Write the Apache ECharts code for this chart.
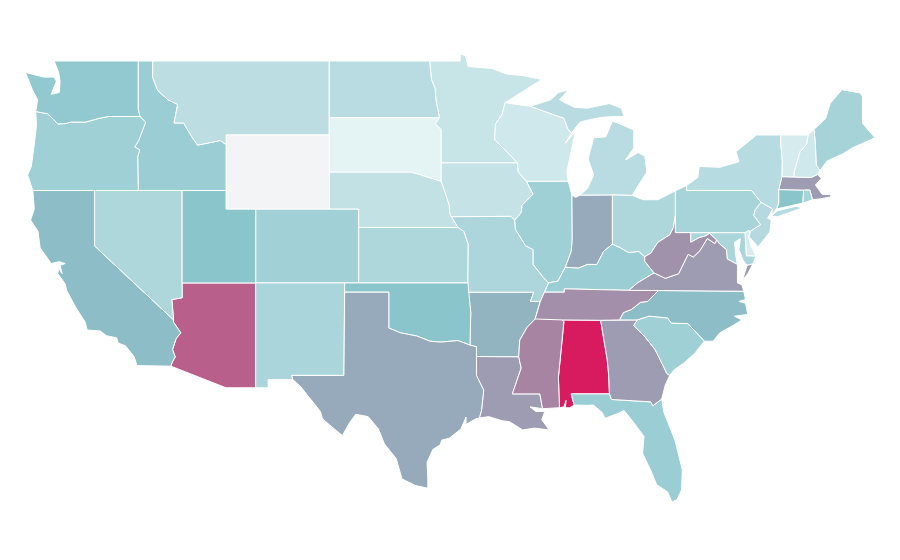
<!DOCTYPE html>
<html>
<head>
<meta charset="utf-8">
<style>html,body{margin:0;background:#fff}#map{width:900px;height:560px}</style>
<script src="https://cdn.jsdelivr.net/npm/echarts@6/dist/echarts.min.js"></script>
</head>
<body>
<div id="map"></div>
<script>
var stateNames = ['Alabama','Arizona','Arkansas','California','Colorado','Connecticut','Delaware','Florida','Georgia','Idaho','Illinois','Indiana','Iowa','Kansas','Kentucky','Louisiana','Maine','Maryland','Massachusetts','Michigan','Minnesota','Mississippi','Missouri','Montana','Nebraska','Nevada','New Hampshire','New Jersey','New Mexico','New York','North Carolina','North Dakota','Ohio','Oklahoma','Oregon','Pennsylvania','Rhode Island','South Carolina','South Dakota','Tennessee','Texas','Utah','Vermont','Virginia','Washington','West Virginia','Wisconsin','Wyoming'];
// Wyoming has no value in the picture, it takes the no-data colour
var stateValues = [100,80,55,52,39,50,13,42,62,42,40,58,22,33,42,62,37,35,62,28,21,69,34,26,24,33,17,30,35,29,52,28,33,50,40,36,36,40,7,66,58,50,14,62,46,65,17,null];
var colorStops = ['#f3fafb','#8ac5cc','#d81b5f'];
var noDataColor = '#f3f4f6';

// shared borders, lon/lat
var columbia = [[-124,46.27],[-123.2,46.15],[-122.8,45.85],[-122.5,45.6],[-121.95,45.62],[-121.6,45.7],[-120.6,45.7],[-119.7,45.9],[-119.05,46],[-116.92,46]];
var snake = [[-116.92,46],[-116.53,45.7],[-117,44.7],[-117.27,44.35],[-116.94,44.2],[-117.07,43.8],[-117.03,42]];
var bitterroot = [[-116.05,49],[-116.05,48.1],[-115.7,47.4],[-115,46.9],[-114.35,46.65],[-114.6,45.65],[-113.95,45.65],[-113.35,44.85],[-113,44.45],[-111.45,44.7],[-111.05,44.47]];
var coloradoRiver = [[-114.63,35],[-114.63,34.87],[-114.14,34.3],[-114.45,34],[-114.7,33.4],[-114.52,33],[-114.72,32.72]];
var redRiverOK = [[-100,34.56],[-99.2,34.3],[-98.1,34.13],[-97.2,33.85],[-96.5,33.8],[-95.3,33.88],[-94.48,33.64]];
var redRiverND = [[-97.23,49],[-97.1,48],[-96.85,47.5],[-96.8,46.9],[-96.56,45.94]];
var sdMn = [[-96.56,45.94],[-96.85,45.6],[-96.45,45.3],[-96.45,43.5]];
var missouriNE = [[-96.45,42.5],[-96.1,41.7],[-95.9,41.2],[-95.85,40.7],[-95.75,40.58]];
var upperMiss = [[-92.1,46.75],[-92.3,46.1],[-92.75,45.6],[-92.8,44.75],[-91.25,43.5],[-91.2,43],[-90.65,42.5]];
var iowaIL = [[-90.65,42.5],[-90.2,41.8],[-90.95,41.2],[-91,40.8],[-91.45,40.4]];
var moIL = [[-91.45,40.4],[-91.4,39.9],[-90.7,39],[-90.2,38.8],[-90.2,38],[-89.5,37.3],[-89.15,37]];
var lowerMiss = [[-89.7,36],[-90.05,35.05],[-90.6,34.6],[-91.1,33.9],[-91.17,33]];
var msLa = [[-91.17,33],[-91,32.4],[-91.6,31],[-89.73,31],[-89.55,30.2]];
var ohioKyW = [[-84.8,39.1],[-85.4,38.7],[-85.85,38],[-86.5,38],[-87.1,37.8],[-88,37.85]];
var ohioKyIL = [[-88,37.85],[-88.5,37.1],[-89.15,37]];
var ohioKyE = [[-82.6,38.42],[-83,38.7],[-83.7,38.65],[-84.25,38.9],[-84.8,39.1]];
var ohioWv = [[-80.52,40.64],[-80.65,40],[-80.9,39.6],[-81.7,39.2],[-82.2,38.6],[-82.6,38.42]];
var kyVa = [[-83.68,36.6],[-83.1,37],[-81.97,37.54]];
var kyWv = [[-81.97,37.54],[-82.6,38.17],[-82.6,38.42]];
var vaWv = [[-77.72,39.32],[-77.83,39.13],[-78.35,39.4],[-78.85,38.75],[-79.3,38.4],[-79.65,38.55],[-80.3,37.5],[-81.2,37.25],[-81.97,37.54]];
var tnNc = [[-84.32,35],[-84.05,35.4],[-83.5,35.57],[-82.9,35.95],[-82.4,36],[-81.68,36.59]];
var savannah = [[-83.1,35],[-83.35,34.7],[-82.6,34.1],[-81.9,33.4],[-81.4,32.6],[-81.1,32.1],[-80.9,32]];
var ncSc = [[-83.1,35],[-82.3,35.2],[-81.05,35.1],[-80.8,34.82],[-79.67,34.8],[-78.55,33.85]];
var alGa = [[-85.6,34.98],[-85.15,32.85],[-85.05,32],[-85,31]];
var gaFl = [[-85,31],[-84.86,30.7],[-82.2,30.57],[-82.05,30.36],[-81.45,30.72]];
var alFl = [[-85,31],[-87.6,31],[-87.4,30.4]];
var delaware = [[-74.7,41.36],[-75.1,40.95],[-75.2,40.65],[-74.73,40.15],[-75.42,39.8]];
var mdPotomac = [[-76.3,38],[-77,38.3],[-77.05,38.8],[-77.5,39.1],[-77.72,39.32]];
var lakeMI = [[-87.55,41.75],[-87.3,41.62],[-87,41.75]];
var wiUp = [[-90.4,46.55],[-89,46.15],[-88.1,45.9],[-87.85,45.35],[-87.6,45.1]];
var ctRi = [[-71.8,42.02],[-71.85,41.32]];
var nyNe = [[-73.35,45],[-73.35,44.5],[-73.25,43.6],[-73.27,42.75]];
var vtNh = [[-71.5,45],[-71.6,44.5],[-72.05,44.1],[-72.45,43],[-72.46,42.73]];

function rev(line) { return line.slice().reverse(); }

var stateShapes = {
    'Washington': [[[[-122.75,49],[-117.04,49],[-117.04,46.42]].concat(rev(columbia), [[-123.87,46.9],[-124.2,47.4],[-124.7,48.38],[-123.45,48.13],[-122.75,48.13],[-122.6,47.9],[-122.95,47.2],[-122.4,47.3],[-122.35,47.9],[-122.45,48.4]])]],
    'Oregon': [[columbia.concat(snake, [[-124.2,42],[-124.55,42.84],[-124.3,43.3],[-124.1,44.5],[-123.95,45.5]])]],
    'California': [[[[-124.2,42],[-120,42],[-120,39]].concat(coloradoRiver, [[-114.81,32.5],[-117.12,32.53],[-117.3,33],[-117.9,33.6],[-118.4,33.75],[-118.5,34.03],[-119.2,34.15],[-119.6,34.4],[-120.5,34.45],[-120.65,34.9],[-121.3,35.7],[-121.9,36.6],[-122,36.95],[-122.5,37.5],[-122.45,37.8],[-122.2,37.5],[-122.35,37.95],[-122,38.05],[-122.4,38.15],[-122.95,38.05],[-123.7,38.9],[-123.85,39.8],[-124.35,40.4],[-124.1,41]])]],
    'Nevada': [[[[-120,42],[-114.05,42],[-114.05,36.2],[-114.75,36.1],[-114.63,35],[-120,39]]]],
    'Arizona': [[[[-114.05,37],[-109.05,37],[-109.05,31.33],[-111.07,31.33],[-114.81,32.5]].concat(rev(coloradoRiver), [[-114.75,36.1],[-114.05,36.2]])]],
    'Idaho': [[[[-117.04,49]].concat(bitterroot, [[-111.05,42]], rev(snake), [[-117.04,46.42]])]],
    'Montana': [[rev(bitterroot).concat([[-104.05,49],[-104.05,45],[-111.05,45]])]],
    'Wyoming': [[[[-111.05,45],[-104.05,45],[-104.05,41],[-111.05,41]]]],
    'Utah': [[[[-114.05,42],[-111.05,42],[-111.05,41],[-109.05,41],[-109.05,37],[-114.05,37]]]],
    'Colorado': [[[[-109.05,41],[-102.05,41],[-102.05,37],[-109.05,37]]]],
    'New Mexico': [[[[-109.05,37],[-103,37],[-103.05,32],[-106.6,32],[-106.53,31.78],[-108.2,31.78],[-108.2,31.33],[-109.05,31.33]]]],
    'North Dakota': [[[[-104.05,49]].concat(redRiverND, [[-104.05,45.94]])]],
    'South Dakota': [[[[-104.05,45.94]].concat(sdMn, [[-96.45,42.5],[-97.85,42.85],[-98.5,43],[-104.05,43]])]],
    'Nebraska': [[[[-104.05,43],[-98.5,43],[-97.85,42.85]].concat(missouriNE, [[-95.3,40],[-102.05,40],[-102.05,41],[-104.05,41]])]],
    'Kansas': [[[[-102.05,40],[-95.3,40],[-94.9,39.8],[-94.6,39.1],[-94.62,37],[-102.05,37]]]],
    'Oklahoma': [[[[-103,37],[-94.62,37],[-94.43,35.4]].concat(rev(redRiverOK), [[-100,36.5],[-103,36.5]])]],
    'Texas': [[[[-103,36.5],[-100,36.5]].concat(redRiverOK, [[-94.04,33.55],[-94.04,33.02],[-94.04,31.99],[-93.55,31.2],[-93.7,30.1],[-93.85,29.7],[-94.1,29.65],[-94.75,29.35],[-94.75,29.75],[-95.1,29.1],[-95.9,28.6],[-96.4,28.5],[-96.5,28.25],[-97,28],[-97.4,27.3],[-97.35,26.5],[-97.35,25.9],[-98.2,26.05],[-99.1,26.4],[-99.5,27.5],[-100.3,28.3],[-100.7,29.1],[-101.4,29.77],[-102.25,29.9],[-102.7,29.4],[-103.15,28.75],[-104,29.3],[-104.5,29.65],[-104.65,30.05],[-106,31.4],[-106.53,31.78],[-106.6,32],[-103.05,32]])]],
    'Minnesota': [[redRiverND.slice(0,1).concat([[-95.15,49],[-95.15,49.38],[-94.8,49.3],[-94.6,48.7],[-93,48.6],[-92,48.3],[-90.8,48.2],[-89.6,48]], upperMiss.slice(0,5), [[-96.45,43.5]], rev(sdMn).slice(1), rev(redRiverND).slice(1))]],
    'Iowa': [[[[-96.45,43.5],[-91.25,43.5],[-91.2,43]].concat(iowaIL, [[-91.7,40.6],[-95.75,40.58]], rev(missouriNE).slice(1))]],
    'Missouri': [[[[-95.75,40.58],[-91.7,40.6]].concat(moIL, [[-89.42,36.5],[-89.7,36],[-90.37,36],[-90.15,36.5],[-94.62,36.5],[-94.62,37],[-94.6,39.1],[-94.9,39.8],[-95.3,40]])]],
    'Arkansas': [[[[-94.62,36.5],[-90.15,36.5],[-90.37,36]].concat(lowerMiss, [[-94.04,33.02],[-94.04,33.55],[-94.48,33.64],[-94.43,35.4]])]],
    'Louisiana': [[[[-94.04,33.02]].concat(msLa, [[-90.4,30.3],[-90,30.05],[-89.4,30.05],[-89.6,29.6],[-89.1,29.05],[-90.1,29.15],[-90.9,29.05],[-91.8,29.5],[-92.3,29.55],[-93.2,29.77],[-93.85,29.7],[-93.7,30.1],[-93.55,31.2],[-94.04,31.99]])]],
    'Mississippi': [[rev(msLa).concat(lowerMiss.slice().reverse().slice(1), [[-88.2,35],[-88.1,34.9],[-88.47,31.9],[-88.4,30.25]])]],
    'Alabama': [[[[-88.2,35]].concat(alGa, alFl.slice(1), [[-87.7,30.25],[-88,30.25],[-87.95,30.65],[-88.1,30.3],[-88.4,30.25],[-88.47,31.9],[-88.1,34.9]])]],
    'Georgia': [[[[-85.6,34.98]].concat(savannah, [[-81.2,31.5]], rev(gaFl), rev(alGa).slice(1))]],
    'Florida': [[rev(alFl).concat(gaFl.slice(1), [[-81.3,30],[-80.55,28.5],[-80.05,26.9],[-80.1,25.8],[-80.4,25.3],[-80.75,25.15],[-81.05,25.7],[-81.8,26.1],[-82.1,26.7],[-82.75,27.8],[-82.65,28.7],[-83.4,29.5],[-84,30.1],[-84.4,29.95],[-85.3,29.68],[-85.5,30],[-86.1,30.4],[-86.5,30.38]])]],
    'South Carolina': [[ncSc.concat([[-79.2,33.2],[-79.9,32.7],[-80.6,32.3]], rev(savannah).slice(0,-1))]],
    'North Carolina': [[[[-84.32,35]].concat(tnNc.slice(1), [[-75.87,36.55],[-75.75,36.1],[-76.2,36],[-75.75,35.9],[-75.6,35.3],[-76.5,35.2],[-76,35],[-76.6,34.7],[-77.5,34.3],[-77.95,33.85]], rev(ncSc))]],
    'Tennessee': [[[[-90.05,35.05],[-88.2,35],[-85.6,34.98]].concat(tnNc, [[-83.68,36.6],[-88.07,36.68],[-88.07,36.5],[-89.42,36.5],[-89.7,36]])]],
    'Kentucky': [[[[-89.42,36.5],[-88.07,36.5],[-88.07,36.68]].concat(kyVa, kyWv.slice(1), ohioKyE.slice(1), ohioKyW.slice(1), ohioKyIL.slice(1))]],
    'Illinois': [[[[-90.65,42.5],[-87.8,42.5],[-87.55,41.75],[-87.53,39.3],[-87.6,38.7]].concat(ohioKyIL, rev(moIL).slice(1), rev(iowaIL).slice(1,-1))]],
    'Indiana': [[lakeMI.concat([[-84.8,41.76]], ohioKyW, [[-87.6,38.7],[-87.53,39.3]])]],
    'Ohio': [[[[-84.8,41.76],[-83.45,41.73],[-82.7,41.5],[-81.7,41.5],[-80.52,41.98]].concat(ohioWv, ohioKyE.slice(1))]],
    'Michigan': [
        [[[-87,41.75],[-84.8,41.76],[-83.45,41.73],[-83.1,42.2],[-82.45,43],[-82.6,43.85],[-83.05,44.05],[-83.9,43.65],[-83.35,44.3],[-83.35,45.27],[-84.3,45.6],[-84.8,45.75],[-85.25,44.9],[-86.07,44.85],[-86.45,43.7],[-86.07,42.84],[-86.5,42.1]]],
        [wiUp.concat([[-87,45.7],[-86.5,45.8],[-85.6,45.95],[-84.8,46],[-84,46],[-84.2,46.45],[-85,46.7],[-86.5,46.45],[-87.4,46.5],[-88.4,46.9],[-87.8,47.43],[-88.45,47.3],[-89,46.9]])]
    ],
    'Wisconsin': [[[[-92.1,46.75]].concat(wiUp, [[-88,44.55],[-87.3,45.2],[-87.5,44.5],[-87.9,43],[-87.8,42.5]], rev(upperMiss).slice(0,-1))]],
    'West Virginia': [[[[-80.52,39.72],[-79.48,39.72],[-79.48,39.2],[-78.9,39.45],[-78.45,39.55],[-78.2,39.68]].concat(vaWv, kyWv.slice(1), rev(ohioWv).slice(1))]],
    'Virginia': [
        [kyVa.concat(rev(vaWv).slice(1), rev(mdPotomac).slice(1), [[-76.3,37.5],[-76.3,37],[-76,36.9],[-75.87,36.55],[-81.68,36.59]])],
        [[[-75.95,37.15],[-75.65,37.95],[-75.25,38.03],[-75.6,37.5]]]
    ],
    'Maryland': [[[[-79.48,39.72],[-75.79,39.72],[-75.7,38.46],[-75.05,38.45],[-75.25,38.03],[-75.65,37.95],[-75.9,38.2],[-76.2,38.8],[-76.1,39.4],[-76.5,39.2],[-76.4,38.4]].concat(mdPotomac, [[-78.2,39.68],[-78.45,39.55],[-78.9,39.45],[-79.48,39.2]])]],
    'Delaware': [[[[-75.79,39.72],[-75.55,39.83],[-75.42,39.8],[-75.55,39.5],[-75.4,39.05],[-75.05,38.45],[-75.7,38.46]]]],
    'Pennsylvania': [[[[-80.52,41.98],[-79.76,42.27],[-79.76,42],[-75.35,42]].concat(delaware, [[-75.55,39.83],[-75.79,39.72],[-80.52,39.72]])]],
    'New Jersey': [[[[-74.7,41.36],[-73.9,41],[-74.25,40.5],[-74,40.4],[-74.1,39.75],[-74.9,38.95],[-75.5,39.5]].concat(rev(delaware).slice(0,-1))]],
    'New York': [
        [[[-79.76,42.27],[-79,42.7],[-78.9,43.3],[-77.5,43.25],[-76.2,43.55],[-76.4,44.1],[-75,45]].concat(nyNe, [[-73.5,42.05],[-73.5,41.3],[-73.65,41],[-74,40.7],[-73.9,41],[-74.7,41.36],[-75.35,42],[-79.76,42]])],
        [[[-74,40.6],[-73.6,40.9],[-72.3,41.15],[-71.9,41.05],[-73.6,40.58]]]
    ],
    'Connecticut': [[[[-73.5,42.05]].concat(ctRi, [[-73.65,41],[-73.5,41.3]])]],
    'Rhode Island': [[[[-71.8,42.02],[-71.38,42.02],[-71.2,41.5],[-71.85,41.32]]]],
    'Massachusetts': [[[[-73.5,42.05],[-73.27,42.75],[-72.46,42.73],[-71.3,42.7],[-70.85,42.87],[-70.6,42.65],[-71,42.3],[-70.55,41.8],[-70.05,41.78],[-70,42.05],[-69.95,41.65],[-70.65,41.55],[-71.2,41.5],[-71.38,42.02],[-71.8,42.02]]]],
    'Vermont': [[nyNe.concat(rev(vtNh))]],
    'New Hampshire': [[vtNh.concat([[-71.3,42.7],[-70.85,42.87],[-70.7,43.07],[-70.95,43.4],[-71,44.5],[-71.1,45.3]])]],
    'Maine': [[[[-71.1,45.3],[-70.3,45.9],[-70,46.7],[-69.2,47.45],[-67.95,47.27],[-67.8,47.07],[-67.8,45.65],[-67.45,45.3],[-66.95,44.85],[-68.5,44.3],[-69.1,44],[-70.2,43.6],[-70.7,43.07],[-70.95,43.4],[-71,44.5]]]]
};

var features = [];
for (var i = 0; i < stateNames.length; i++) {
    features.push({
        type: 'Feature',
        properties: { name: stateNames[i] },
        geometry: { type: 'MultiPolygon', coordinates: stateShapes[stateNames[i]] }
    });
}
echarts.registerMap('USA', { type: 'FeatureCollection', features: features });

var seriesData = stateNames.map(function (name, i) {
    return { name: name, value: stateValues[i] };
});

var myChart = echarts.init(document.getElementById('map'));
myChart.setOption({
    animation: false,
    visualMap: {
        show: false,
        min: 0,
        max: 100,
        inRange: { color: colorStops }
    },
    series: [{
        type: 'map',
        map: 'USA',
        silent: true,
        roam: false,
        aspectScale: 0.795,
        boundingCoords: [[-124.73, 49.38], [-66.95, 25.1]],
        left: 25,
        top: 54,
        width: 850,
        height: 449,
        label: { show: false },
        itemStyle: { areaColor: noDataColor, borderColor: '#fff', borderWidth: 1 },
        data: seriesData
    }]
});
</script>
</body>
</html>
